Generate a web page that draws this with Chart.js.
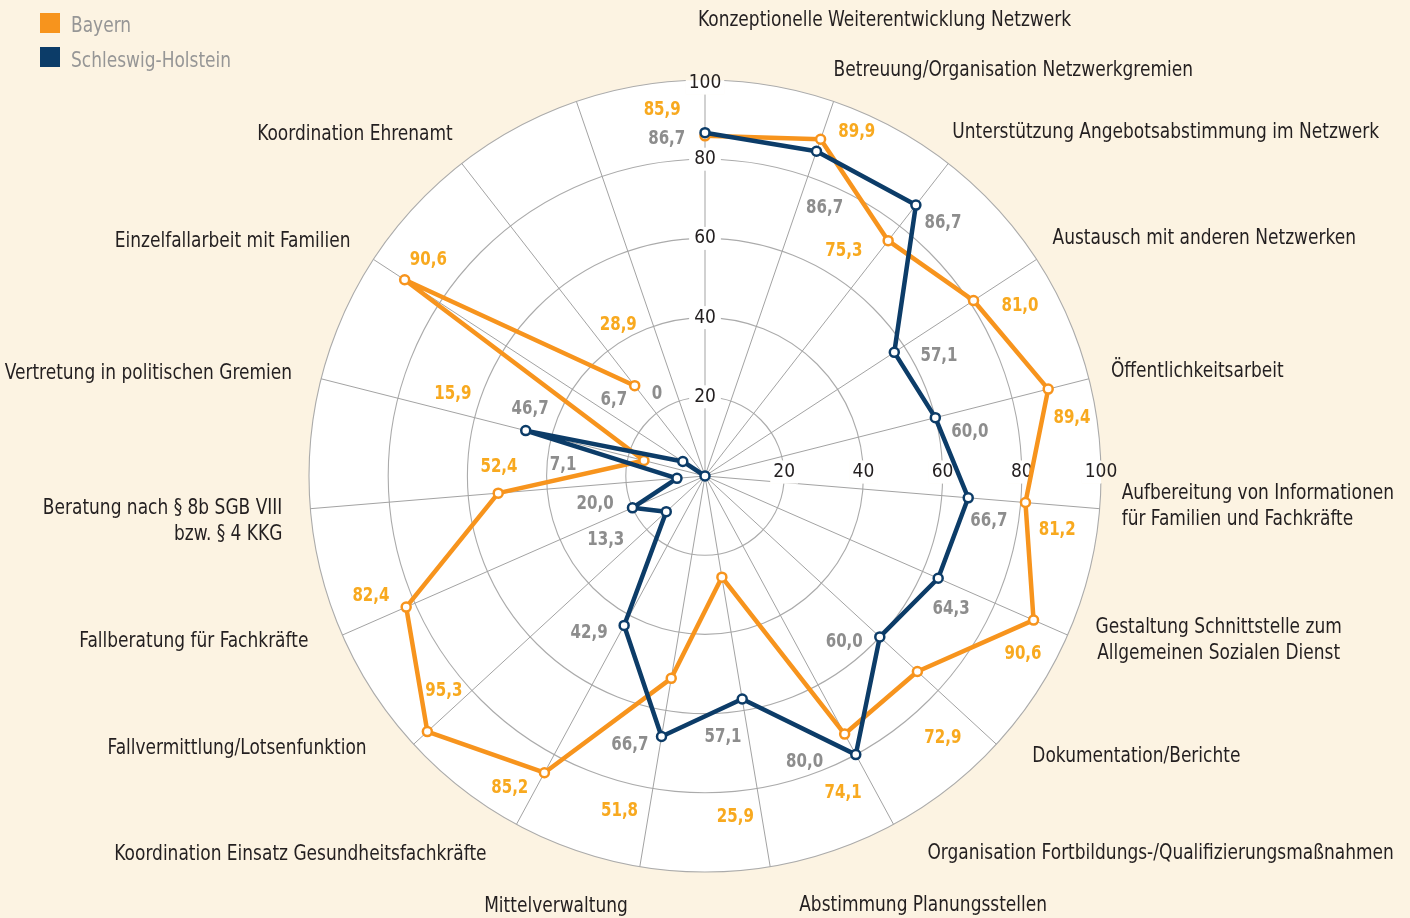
<!DOCTYPE html>
<html><head><meta charset="utf-8">
<script src="https://cdn.jsdelivr.net/npm/chart.js@4.4.0/dist/chart.umd.min.js"></script>
<style>html,body{margin:0;padding:0;background:#fcf3e2;overflow:hidden}canvas{display:block}</style>
</head><body>
<canvas id="c" width="1410" height="918"></canvas>
<script>
// ---------- data ----------
const categories = [
  'Konzeptionelle Weiterentwicklung Netzwerk',
  'Betreuung/Organisation Netzwerkgremien',
  'Unterstützung Angebotsabstimmung im Netzwerk',
  'Austausch mit anderen Netzwerken',
  'Öffentlichkeitsarbeit',
  ['Aufbereitung von Informationen', 'für Familien und Fachkräfte'],
  ['Gestaltung Schnittstelle zum', 'Allgemeinen Sozialen Dienst'],
  'Dokumentation/Berichte',
  'Organisation Fortbildungs-/Qualifizierungsmaßnahmen',
  'Abstimmung Planungsstellen',
  'Mittelverwaltung',
  'Koordination Einsatz Gesundheitsfachkräfte',
  'Fallvermittlung/Lotsenfunktion',
  'Fallberatung für Fachkräfte',
  ['Beratung nach § 8b SGB VIII', 'bzw. § 4 KKG'],
  'Vertretung in politischen Gremien',
  'Einzelfallarbeit mit Familien',
  'Koordination Ehrenamt',
  ''
];
const seriesNames = ['Bayern', 'Schleswig-Holstein'];
const bayern = [85.9, 89.9, 75.3, 81.0, 89.4, 81.2, 90.6, 72.9, 74.1, 25.9, 51.8, 85.2, 95.3, 82.4, 52.4, 15.9, 90.6, 28.9, null];
const schleswigHolstein = [86.7, 86.7, 86.7, 57.1, 60.0, 66.7, 64.3, 60.0, 80.0, 57.1, 66.7, 42.9, 13.3, 20.0, 7.1, 46.7, 6.7, 0, null];
const tickValues = [0, 20, 40, 60, 80, 100];

// ---------- layout (label placement only) ----------
// category label: offset from the end of its spoke, alignment
const categoryLabelLayout = [
  [-7, -60, 'left'], [0, -31, 'left'], [4, -31, 'left'], [16, -21, 'left'], [22, -7, 'left'],
  [22, -15, 'left'], [151, -8, 'center'], [36, 12, 'left'], [34, 29, 'left'], [29, 39, 'left'],
  [-12, 40, 'right'], [-30, 30, 'right'], [-47, 4, 'right'], [-34, 6, 'right'], [-28, 0, 'right'],
  [-29, -5, 'right'], [-23, -18, 'right'], [-9, -29, 'right']
];
// value label: [axis position (fractional index), radius in scale units]
const bayernLabelPos = [[-0.35,93.6],[1.25,95.4],[1.66,67.2],[3.24,90.6],[4.26,93.9],[5.19,89.9],[6.28,91.8],[7.26,89.0],[8.25,86.8],[9.23,85.9],[10.26,86.8],[11.2,92.5],[12.18,85.1],[13.22,89.5],[14.41,52.1],[15.22,67.1],[16.27,89.0],[17.44,44.4]];
const shLabelPos = [[-0.34,86.1],[1.26,74.6],[2.27,88.1],[3.30,66.6],[4.23,67.9],[5.20,72.5],[6.23,70.4],[7.37,54.3],[8.48,76.0],[9.29,65.6],[10.33,70.0],[11.44,48.9],[12.57,29.5],[13.55,28.5],[14.53,36.0],[15.39,47.5],[16.39,30.3],[17.43,24.4]];

// ---------- styles ----------
const FONT = '"DejaVu Sans Condensed","Liberation Sans Narrow","Arial Narrow",sans-serif';
const SX = 0.88; // horizontal text compression to mimic a condensed face
const CREAM = '#fcf3e2';
const ORANGE = '#f7941d';
const NAVY = '#0c3c68';
const ORANGE_TEXT = '#f8a91f';
const GRAY_TEXT = '#8d8d8d';
const DARK_TEXT = '#231f20';

function fmt(v) { return v === 0 ? '0' : v.toFixed(1).replace('.', ','); }
function text(ctx, txt, x, y, align, sx) {
  ctx.save();
  ctx.translate(x, y);
  ctx.scale(sx, 1);
  ctx.textAlign = align;
  ctx.fillText(txt, 0, 0);
  ctx.restore();
}

const decor = {
  id: 'decor',
  beforeDraw(chart) {
    const {ctx, width, height} = chart;
    const s = chart.scales.r;
    ctx.save();
    ctx.fillStyle = CREAM; ctx.fillRect(0, 0, width, height);
    ctx.beginPath(); ctx.arc(s.xCenter, s.yCenter, s.drawingArea, 0, Math.PI * 2);
    ctx.fillStyle = '#fff'; ctx.fill();
    ctx.restore();
  },
  beforeDatasetsDraw(chart) {
    const s = chart.scales.r; const ctx = chart.ctx;
    ctx.save();
    ctx.font = `19px ${FONT}`; ctx.textBaseline = 'middle';
    const boxLabel = (txt, x, y) => {
      const w = ctx.measureText(txt).width + 6, h = 23;
      ctx.save(); ctx.beginPath(); ctx.rect(x - w / 2, y - h / 2, w, h); ctx.clip();
      ctx.fillStyle = CREAM; ctx.fillRect(x - w / 2, y - h / 2, w, h);
      ctx.beginPath(); ctx.arc(s.xCenter, s.yCenter, s.drawingArea, 0, 2 * Math.PI);
      ctx.fillStyle = '#fff'; ctx.fill();
      ctx.restore();
      ctx.fillStyle = DARK_TEXT; text(ctx, txt, x, y, 'center', 1);
    };
    s.ticks.forEach((t, k) => {
      if (k === 0) return;
      const d = s.getDistanceFromCenterForValue(t.value);
      if (t.value === s.max) boxLabel(String(t.value), s.xCenter, s.yCenter - d + 3);
      boxLabel(String(t.value), s.xCenter + d, s.yCenter - 4);
    });
    // category labels
    ctx.font = `21.5px ${FONT}`; ctx.fillStyle = DARK_TEXT;
    categories.forEach((lab, i) => {
      const lay = categoryLabelLayout[i];
      if (!lay || !lab) return;
      const p = s.getPointPosition(i, s.drawingArea);
      const lines = Array.isArray(lab) ? lab : [lab];
      lines.forEach((ln, j) => text(ctx, ln, p.x + lay[0], p.y + lay[1] + j * 26, lay[2], SX));
    });
    // legend
    const legendColors = [ORANGE, NAVY];
    seriesNames.forEach((n, k) => {
      ctx.fillStyle = legendColors[k];
      ctx.fillRect(40, 13 + k * 34, 20, 20);
      ctx.fillStyle = '#969696';
      text(ctx, n, 71, 26 + k * 35, 'left', SX);
    });
    ctx.restore();
  },
  afterDatasetsDraw(chart) {
    const s = chart.scales.r; const ctx = chart.ctx;
    ctx.save();
    ctx.font = `bold 19px ${FONT}`; ctx.textBaseline = 'middle';
    const draw = (vals, pos, color) => {
      ctx.fillStyle = color;
      pos.forEach((pp, i) => {
        if (vals[i] === null || vals[i] === undefined) return;
        const p = s.getPointPosition(pp[0], s.getDistanceFromCenterForValue(pp[1]));
        text(ctx, fmt(vals[i]), p.x, p.y + 2, 'center', SX);
      });
    };
    draw(bayern, bayernLabelPos, ORANGE_TEXT);
    draw(schleswigHolstein, shLabelPos, GRAY_TEXT);
    ctx.restore();
  }
};

new Chart(document.getElementById('c'), {
  type: 'radar',
  data: {
    labels: categories,
    datasets: [
      { label: seriesNames[0], data: bayern, borderColor: ORANGE, backgroundColor: ORANGE,
        borderWidth: 4.5, pointRadius: 4.5, pointBorderWidth: 2.5, pointBackgroundColor: '#fff',
        pointBorderColor: ORANGE, fill: false, spanGaps: false, borderJoinStyle: 'round', order: 1 },
      { label: seriesNames[1], data: schleswigHolstein, borderColor: NAVY, backgroundColor: NAVY,
        borderWidth: 4.5, pointRadius: 4.5, pointBorderWidth: 2.5, pointBackgroundColor: '#fff',
        pointBorderColor: NAVY, fill: false, spanGaps: false, borderJoinStyle: 'round', order: 0 }
    ]
  },
  options: {
    responsive: false, animation: false, devicePixelRatio: 1,
    layout: { padding: { top: 68, bottom: 34, left: 0, right: 0 } },
    plugins: { legend: { display: false }, tooltip: { enabled: false } },
    events: [],
    scales: {
      r: {
        min: 0, max: 100,
        afterBuildTicks: (sc) => { sc.ticks = tickValues.map(v => ({ value: v })); },
        ticks: {
          stepSize: 20,
          font: { family: FONT, size: 19 },
          color: (c) => c.index === tickValues.length - 1 ? 'rgba(0,0,0,0)' : DARK_TEXT,
          backdropColor: (c) => c.index === tickValues.length - 1 ? 'rgba(0,0,0,0)' : '#ffffff',
          backdropPadding: { x: 5, y: 2 },
          showLabelBackdrop: true
        },
        pointLabels: { display: false },
        grid: { circular: true, color: '#ababab', lineWidth: 1.1 },
        angleLines: { color: '#a3a3a3', lineWidth: 1 }
      }
    }
  },
  plugins: [decor]
});
</script>
</body></html>
